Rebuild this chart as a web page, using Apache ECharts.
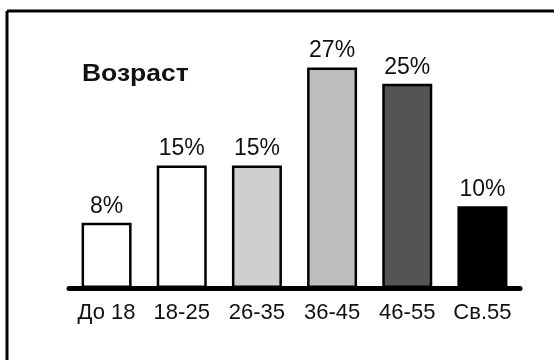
<!DOCTYPE html>
<html>
<head>
<meta charset="utf-8">
<script src="https://cdn.jsdelivr.net/npm/echarts@6/dist/echarts.min.js"></script>
<style>
  html, body { margin: 0; padding: 0; background: #fff; }
  #chart { width: 554px; height: 360px; }
</style>
</head>
<body>
<div id="chart"></div>
<script>
// age groups and share (%)
var categories = ['До 18', '18-25', '26-35', '36-45', '46-55', 'Св.55']
var values = [8, 15, 15, 27, 25, 10]
var barColors = ['#ffffff', '#ffffff', '#cfcfcf', '#bdbdbd', '#545454', '#000000']

var chart = echarts.init(document.getElementById('chart'))

var option = {
  animation: false,
  backgroundColor: '#fff',
  textStyle: { fontFamily: 'Liberation Sans, Arial, sans-serif' },
  graphic: [
    { type: 'line', shape: { x1: 7, y1: 11, x2: 554, y2: 11 }, style: { stroke: '#000', lineWidth: 3 } },
    { type: 'line', shape: { x1: 7, y1: 11, x2: 7, y2: 360 }, style: { stroke: '#000', lineWidth: 3 } },
    {
      type: 'text', x: 82, y: 63, scaleX: 1.15,
      style: { text: 'Возраст', fontSize: 23, fontWeight: 'bold', fill: '#111', fontFamily: 'Liberation Sans, Arial, sans-serif' }
    }
  ],
  grid: { left: 69, right: 34, top: 43, bottom: 72 },
  xAxis: {
    type: 'category',
    data: categories,
    axisLine: { lineStyle: { color: '#000', width: 5 } },
    axisTick: { show: false },
    axisLabel: { color: '#111', fontSize: 22, margin: 14, interval: 0, hideOverlap: false }
  },
  yAxis: {
    type: 'value',
    min: 0,
    max: 30,
    show: false,
    splitLine: { show: false }
  },
  series: [
    {
      type: 'bar',
      barWidth: 50,
      data: values.map(function (v, i) {
        return { value: v, itemStyle: { color: barColors[i] } }
      }),
      itemStyle: { borderColor: '#000', borderWidth: 2.5 },
      label: {
        show: true,
        position: 'top',
        distance: 5,
        formatter: '{c}%',
        fontSize: 23,
        color: '#111'
      }
    }
  ]
}

chart.setOption(option)
</script>
</body>
</html>
